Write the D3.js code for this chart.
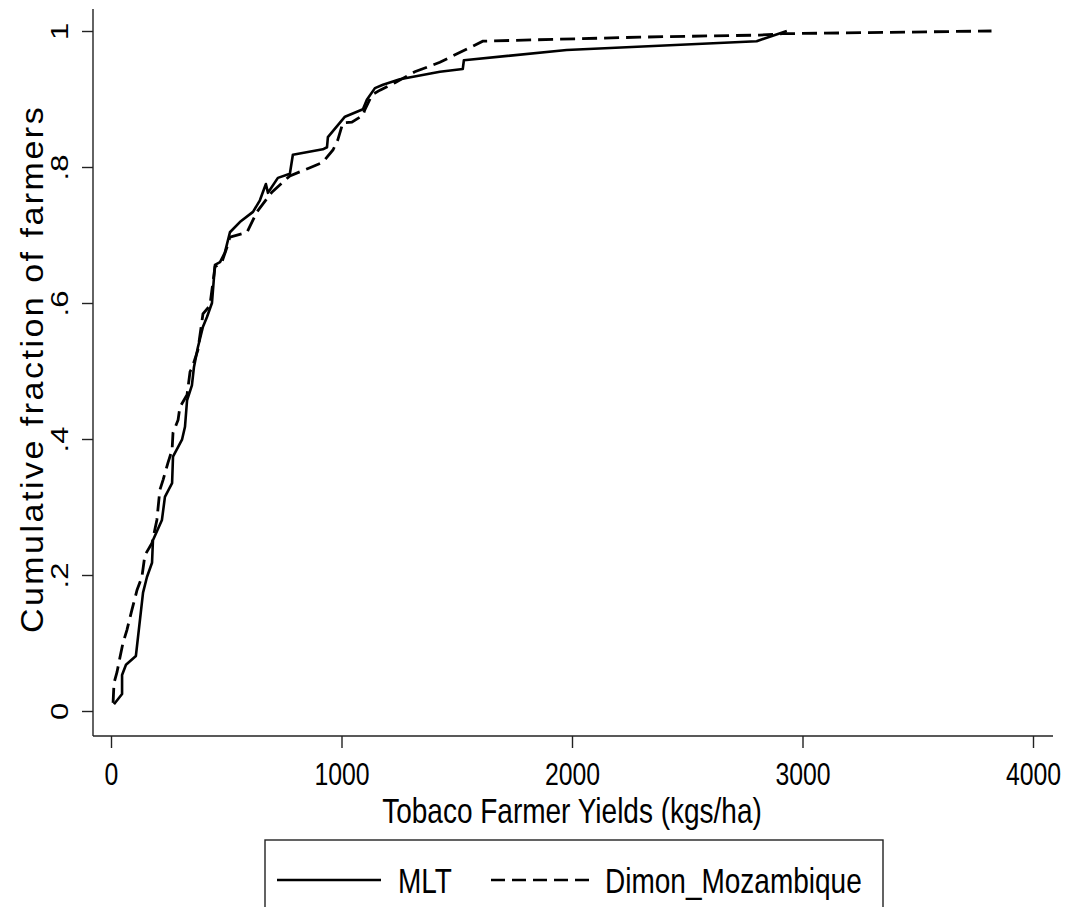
<!DOCTYPE html>
<html>
<head>
<meta charset="utf-8">
<script src="https://cdn.jsdelivr.net/npm/d3@7"></script>
<style>
  html, body { margin: 0; padding: 0; background: #fff; }
  svg { display: block; }
  text { font-family: "Liberation Sans", Arial, sans-serif; fill: #000; }
</style>
</head>
<body>
<div id="chart"></div>
<script>
// Cumulative distribution of yields
const mltYield = [13, 48, 48, 65, 108, 139, 156, 178, 182, 221, 234, 265, 269, 308, 321, 330, 351, 360,
  377, 399, 416, 438, 451, 473, 494, 516, 559, 616, 646, 672, 681, 724, 776, 789, 919, 937, 941,
  1015, 1093, 1110, 1145, 1180, 1253, 1427, 1526, 1531, 1977, 2801, 2932];
const mltFrac = [0.010, 0.025, 0.053, 0.068, 0.081, 0.174, 0.197, 0.218, 0.251, 0.281, 0.315, 0.335,
  0.374, 0.399, 0.418, 0.457, 0.479, 0.506, 0.535, 0.565, 0.579, 0.600, 0.656, 0.660, 0.674, 0.704,
  0.719, 0.734, 0.751, 0.775, 0.762, 0.784, 0.790, 0.818, 0.826, 0.829, 0.844, 0.874, 0.885, 0.899,
  0.916, 0.921, 0.929, 0.940, 0.944, 0.957, 0.972, 0.985, 1.0];

const dimonYield = [9, 13, 26, 39, 52, 69, 91, 113, 134, 147, 178, 199, 212, 226, 247, 265, 269, 291,
  299, 330, 343, 351, 377, 399, 429, 451, 481, 503, 516, 590, 633, 698, 776, 863, 919, 963, 984,
  1006, 1045, 1093, 1101, 1132, 1167, 1232, 1318, 1427, 1613, 2294, 2814, 2914, 3820];
const dimonFrac = [0.012, 0.041, 0.057, 0.079, 0.100, 0.119, 0.149, 0.178, 0.197, 0.229, 0.247, 0.281,
  0.325, 0.340, 0.365, 0.384, 0.409, 0.428, 0.447, 0.465, 0.499, 0.504, 0.531, 0.584, 0.596, 0.653,
  0.660, 0.682, 0.697, 0.704, 0.734, 0.763, 0.787, 0.799, 0.807, 0.825, 0.840, 0.865, 0.866, 0.876,
  0.884, 0.906, 0.913, 0.924, 0.940, 0.954, 0.985, 0.991, 0.994, 0.996, 1.0];

const xTicks = [0, 1000, 2000, 3000, 4000];
const yTicks = [0, 0.2, 0.4, 0.6, 0.8, 1];
const seriesNames = ['MLT', 'Dimon_Mozambique'];

const width = 1071, height = 907;
const squeeze = 0.8; // text in the picture is horizontally compressed

const svg = d3.select('#chart').append('svg')
    .attr('width', width)
    .attr('height', height);

const x = d3.scaleLinear().domain([0, 4000]).range([111, 1033]);
const y = d3.scaleLinear().domain([0, 1]).range([711, 31]);

// axis lines
svg.append('line')
    .attr('x1', 93).attr('x2', 93).attr('y1', 9).attr('y2', 736)
    .attr('stroke', '#222').attr('stroke-width', 1.4);
svg.append('line')
    .attr('x1', 93).attr('x2', 1053).attr('y1', 736).attr('y2', 736)
    .attr('stroke', '#222').attr('stroke-width', 1.4);

// x axis
const xAxis = svg.append('g')
    .attr('transform', 'translate(0,736)')
    .call(d3.axisBottom(x).tickValues(xTicks).tickSize(12).tickSizeOuter(0).tickFormat(d3.format('d')));
xAxis.select('.domain').remove();
xAxis.selectAll('line').attr('stroke', '#222').attr('stroke-width', 1.4);
xAxis.selectAll('text')
    .attr('x', 0).attr('y', 0).attr('dy', null)
    .attr('font-size', 31)
    .attr('transform', `translate(0,49) scale(${squeeze},1)`);

// y axis
const yAxis = svg.append('g')
    .attr('transform', 'translate(93,0)')
    .call(d3.axisLeft(y).tickValues(yTicks).tickSize(11).tickSizeOuter(0)
        .tickFormat(d => d === 0 ? '0' : d === 1 ? '1' : d3.format('.1f')(d).replace(/^0/, '')));
yAxis.select('.domain').remove();
yAxis.selectAll('line').attr('stroke', '#222').attr('stroke-width', 1.4);
yAxis.selectAll('text')
    .attr('x', 0).attr('y', 0).attr('dy', null)
    .attr('text-anchor', 'middle')
    .attr('font-size', 31)
    .attr('transform', `translate(-25,0) scale(${squeeze},1) rotate(-90)`);

// axis titles
svg.append('text')
    .attr('text-anchor', 'middle')
    .attr('font-size', 35)
    .attr('transform', `translate(572,823) scale(${squeeze},1)`)
    .text('Tobaco Farmer Yields (kgs/ha)');

svg.append('text')
    .attr('text-anchor', 'middle')
    .attr('font-size', 34)
    .attr('letter-spacing', 2.5)
    .attr('transform', 'translate(43,369) scale(0.9,1) rotate(-90)')
    .text('Cumulative fraction of farmers');

// curves
const line = d3.line().x(d => x(d[0])).y(d => y(d[1]));

svg.append('path')
    .datum(d3.zip(mltYield, mltFrac))
    .attr('d', line)
    .attr('fill', 'none')
    .attr('stroke', '#000')
    .attr('stroke-width', 2.6)
    .attr('stroke-linejoin', 'round');

svg.append('path')
    .datum(d3.zip(dimonYield, dimonFrac))
    .attr('d', line)
    .attr('fill', 'none')
    .attr('stroke', '#000')
    .attr('stroke-width', 2.8)
    .attr('stroke-dasharray', '15,7');

// legend
const legend = svg.append('g');
legend.append('rect')
    .attr('x', 265).attr('y', 840).attr('width', 618).attr('height', 90)
    .attr('fill', '#fff').attr('stroke', '#222').attr('stroke-width', 1.4);

const legendItems = [
  { name: seriesNames[0], x1: 277, x2: 381, tx: 398, dash: null },
  { name: seriesNames[1], x1: 491, x2: 591, tx: 605, dash: '14,7' }
];
legendItems.forEach(it => {
  legend.append('line')
      .attr('x1', it.x1).attr('x2', it.x2).attr('y1', 880).attr('y2', 880)
      .attr('stroke', '#000').attr('stroke-width', 2.6)
      .attr('stroke-dasharray', it.dash);
  legend.append('text')
      .attr('font-size', 35)
      .attr('transform', `translate(${it.tx},893) scale(${squeeze},1)`)
      .text(it.name);
});
</script>
</body>
</html>
